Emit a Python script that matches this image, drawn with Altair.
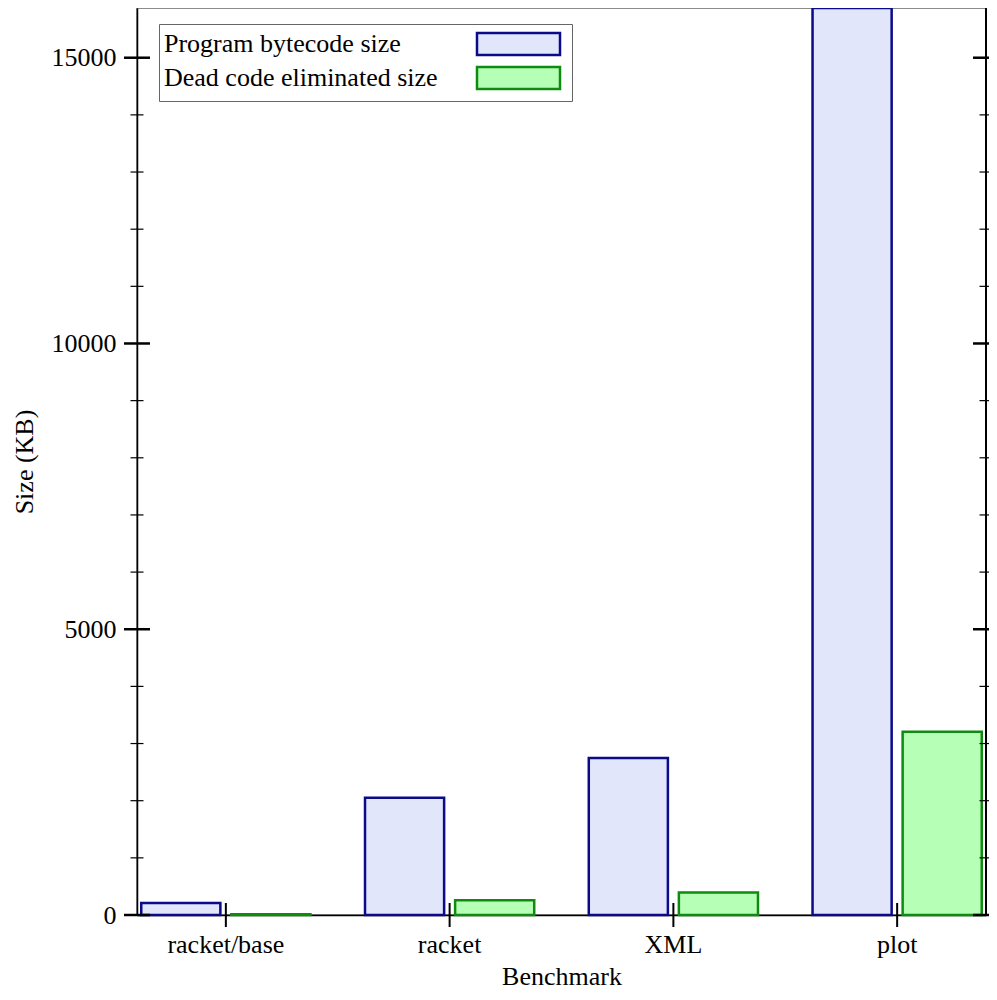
import altair as alt
import pandas as pd

benchmarks = ["racket/base", "racket", "XML", "plot"]
series_names = ["Program bytecode size", "Dead code eliminated size"]
bytecode_size = [210, 2050, 2745, 15870]
dce_size = [12, 257, 392, 3205]
major_ticks = [0, 5000, 10000, 15000]
minor_ticks = [1000, 2000, 3000, 4000, 6000, 7000, 8000, 9000,
               11000, 12000, 13000, 14000]
fill_colors = ["#e1e6fa", "#b6ffb6"]
stroke_colors = ["#0b0b8a", "#0f8c0f"]

W, H = 849, 907
FONT = "Liberation Serif"

rows = []
for b, v1, v2 in zip(benchmarks, bytecode_size, dce_size):
    rows.append({"benchmark": b, "series": series_names[0], "value": v1})
    rows.append({"benchmark": b, "series": series_names[1], "value": v2})
df = pd.DataFrame(rows)
cat_df = pd.DataFrame({"benchmark": benchmarks})
major_df = pd.DataFrame({"value": major_ticks})
minor_df = pd.DataFrame({"value": minor_ticks})

x_axis = alt.Axis(title="Benchmark", labelAngle=0, ticks=False, tickSize=0,
                  labelPadding=16, titlePadding=6, domainColor="black",
                  domainWidth=1.5)
y_axis = alt.Axis(title="Size (KB)", values=major_ticks, format="d", grid=False,
                  ticks=False, tickSize=0, labelPadding=21, titlePadding=14,
                  domainColor="black", domainWidth=1.5)


def xenc():
    return alt.X("benchmark:N", sort=benchmarks, axis=x_axis,
                 scale=alt.Scale(paddingInner=0.2438, paddingOuter=0.019))


def yenc():
    return alt.Y("value:Q", axis=y_axis,
                 scale=alt.Scale(domain=[0, max(bytecode_size)], nice=False))


legend = alt.Legend(
    title=None, orient="none", legendX=22, legendY=16, padding=7,
    fillColor="white", strokeColor="#666",
    labelFont=FONT, labelFontSize=26, labelColor="black", labelLimit=600,
    symbolType="M298,-11H381V11H298Z", symbolSize=4, symbolStrokeWidth=2.5,
    rowPadding=2, labelOffset={"expr": "-28"}, symbolOffset=0,
)

bars = alt.Chart(df).mark_bar(strokeWidth=2.5).encode(
    x=xenc(),
    xOffset=alt.XOffset("series:N", sort=series_names,
                        scale=alt.Scale(paddingInner=0.122, paddingOuter=0)),
    y=yenc(),
    fill=alt.Fill("series:N", sort=series_names,
                  scale=alt.Scale(domain=series_names, range=fill_colors),
                  legend=legend),
    stroke=alt.Stroke("series:N", sort=series_names,
                      scale=alt.Scale(domain=series_names, range=stroke_colors),
                      legend=legend),
)

cat_ticks = alt.Chart(cat_df).mark_rule(color="black", strokeWidth=2).encode(
    x=xenc(), y=alt.value(H - 12), y2=alt.value(H + 12)
)

left_major = alt.Chart(major_df).mark_rule(color="black", strokeWidth=2.5).encode(
    y=yenc(), x=alt.value(-13), x2=alt.value(13))
right_major = alt.Chart(major_df).mark_rule(color="black", strokeWidth=2.5).encode(
    y=yenc(), x=alt.value(W - 13), x2=alt.value(W + 13))
left_minor = alt.Chart(minor_df).mark_rule(color="black", strokeWidth=1.2).encode(
    y=yenc(), x=alt.value(-6.5), x2=alt.value(6.5))
right_minor = alt.Chart(minor_df).mark_rule(color="black", strokeWidth=1.2).encode(
    y=yenc(), x=alt.value(W - 6.5), x2=alt.value(W + 6.5))
right_line = alt.Chart(cat_df).mark_rule(color="black", strokeWidth=1.5).encode(
    x=alt.value(W), y=alt.value(0), y2=alt.value(H))

chart = alt.layer(
    bars, cat_ticks, left_major, right_major, left_minor, right_minor, right_line
).properties(
    width=W, height=H,
    padding={"left": 129, "top": 0, "right": 3, "bottom": 77},
    autosize="none",
    background="white",
).configure_view(
    stroke="#666", strokeWidth=1.5
).configure_axis(
    labelFont=FONT, labelFontSize=26, labelColor="black",
    titleFont=FONT, titleFontSize=26, titleFontWeight="normal", titleColor="black",
)

chart.save("out.html", embed_options={"renderer": "svg", "actions": False})
